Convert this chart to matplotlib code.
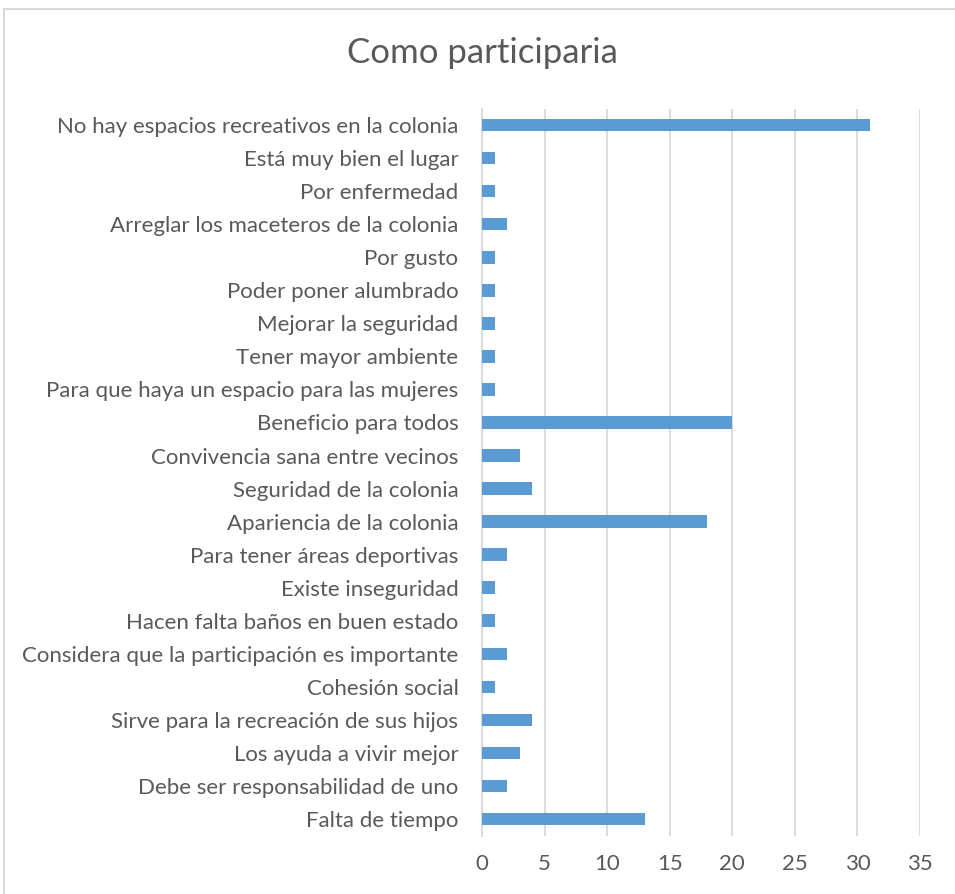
import matplotlib.pyplot as plt
from matplotlib.patches import Rectangle

# datos
categorias = ["No hay espacios recreativos en la colonia", "Está muy bien el lugar", "Por enfermedad",
              "Arreglar los maceteros de la colonia", "Por gusto", "Poder poner alumbrado",
              "Mejorar la seguridad", "Tener mayor ambiente", "Para que haya un espacio para las mujeres",
              "Beneficio para todos", "Convivencia sana entre vecinos", "Seguridad de la colonia",
              "Apariencia de la colonia", "Para tener áreas deportivas", "Existe inseguridad",
              "Hacen falta baños en buen estado", "Considera que la participación es importante",
              "Cohesión social", "Sirve para la recreación de sus hijos", "Los ayuda a vivir mejor",
              "Debe ser responsabilidad de uno", "Falta de tiempo"]
valores = [31, 1, 1, 2, 1, 1, 1, 1, 1, 20, 3, 4, 18, 2, 1, 1, 2, 1, 4, 3, 2, 13]
ticks_x = [0, 5, 10, 15, 20, 25, 30, 35]

plt.rcParams['font.family'] = ['Lato', 'DejaVu Sans']
gris_texto = "#595959"

fig = plt.figure(figsize=(9.55, 8.94), dpi=100)
ax = fig.add_axes([0.5047, 0.0654, 0.4587, 0.8132])

pos = list(range(len(categorias)))[::-1]
ax.barh(pos, valores, height=0.38, color="#5B9BD5", zorder=3)

ax.set_xlim(0, 35)
ax.set_ylim(-0.5, len(categorias) - 0.5)
ax.set_xticks(ticks_x)
ax.set_yticks(pos)
ax.set_yticklabels(categorias)
ax.tick_params(axis="both", length=0, labelsize=16, colors=gris_texto)
ax.tick_params(axis="y", pad=17)
ax.tick_params(axis="x", pad=13)
ax.grid(axis="x", color="#D9D9D9", linewidth=1.3, zorder=0)
for s in ["top", "right", "bottom"]:
    ax.spines[s].set_visible(False)
ax.spines["left"].set_color("#D9D9D9")
ax.spines["left"].set_linewidth(1.3)

fig.text(0.505, 0.941, "Como participaria", ha="center", va="center", fontsize=25, color=gris_texto)

# marco del grafico
fig.patches.append(Rectangle((4 / 955, -0.1), 1.2, 1.1 - 9 / 894, transform=fig.transFigure,
                             fill=False, edgecolor="#D9D9D9", linewidth=1.5))

plt.savefig("out.png")
